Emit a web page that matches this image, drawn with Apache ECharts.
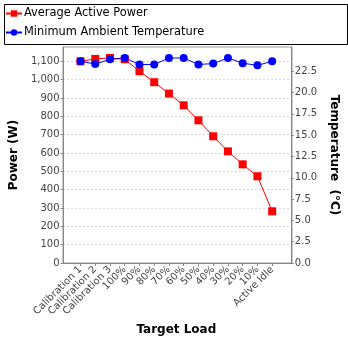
<!DOCTYPE html>
<html><head><meta charset="utf-8">
<script src="https://cdn.jsdelivr.net/npm/echarts@6/dist/echarts.min.js"></script>
<style>html,body{margin:0;padding:0;background:#fff}#c{width:348px;height:348px}</style>
</head><body><div id="c"></div>
<script>
const categories = ['Calibration 1','Calibration 2','Calibration 3','100%','90%','80%','70%','60%','50%','40%','30%','20%','10%','Active Idle'];
const powerValues = [1100,1113,1118,1111,1046,986,924,860,778,691,609,538,473,282];
const tempValues = [23.67,23.35,23.9,24.06,23.3,23.3,24.06,24.06,23.3,23.4,24.06,23.45,23.2,23.67];
const tempTicks = [0,2.5,5,7.5,10,12.5,15,17.5,20,22.5];
const seriesNames = ['Average Active Power','Minimum Ambient Temperature'];
const axisTitles = {x:'Target Load', left:'Power (W)', right:'Temperature  (°C)'};

const FONT = 'DejaVu Sans';
const chart = echarts.init(document.getElementById('c'), null, {renderer:'canvas'});
const lblStyle = {fontFamily: FONT, fontSize: 10, color: '#444'};
const titleStyle = {fontFamily: FONT, fontSize: 12, fontWeight: 'bold', color: '#000'};
chart.setOption({
  animation: false,
  backgroundColor: '#fff',
  graphic: [{type:'rect', left: 2, top: 2, shape:{width:343, height:40}, style:{fill:'none', stroke:'#000', lineWidth:1}, z: 100}],
  legend: {
    orient: 'vertical', left: 5, top: 8, padding: 0, itemGap: 8, itemWidth: 16, itemHeight: 8,
    textStyle: {fontFamily: FONT, fontSize: 11.4, color: '#000', padding:[0,0,0,-3]},
    data: seriesNames
  },
  grid: [
    {left: 72.6, right: 67.3, top: 47, bottom: 85},
    {left: 63, right: 56, top: 47, bottom: 85, show: true, borderColor: '#999', borderWidth: 1, backgroundColor: 'transparent'}
  ],
  xAxis: [
    {type: 'category', gridIndex: 0, data: categories, boundaryGap: true,
     axisLine: {show: false}, axisTick: {show: true, alignWithLabel: true, length: 3, lineStyle:{color:'#888'}},
     axisLabel: Object.assign({rotate: 45, interval: 0, margin: 5}, lblStyle),
     name: axisTitles.x, nameLocation: 'middle', nameGap: 57, nameTextStyle: titleStyle},
    {type: 'value', gridIndex: 1, min: 0, max: 1, axisLabel: {show:false}, axisTick:{show:false}, splitLine:{show:false},
     axisLine: {show: true, lineStyle: {color: '#888'}}}
  ],
  yAxis: [
    {type: 'value', gridIndex: 0, position: 'left', offset: 9.6, min: 0, max: 1178, interval: 100,
     axisLine: {show: true, lineStyle: {color: '#888'}}, axisTick: {show: true, length: 3, lineStyle:{color:'#888'}},
     axisLabel: Object.assign({margin: 4, showMaxLabel: false, formatter: v => v > 1150 ? '' : v.toLocaleString('en-US')}, lblStyle),
     splitLine: {show: false},
     name: axisTitles.left, nameLocation: 'middle', nameRotate: 90, nameGap: 34, nameTextStyle: titleStyle},
    {type: 'value', gridIndex: 0, position: 'right', offset: 11.3, min: 0, max: 25.35, interval: 2.5,
     axisLine: {show: true, lineStyle: {color: '#888'}}, axisTick: {show: true, length: 3, customValues: tempTicks, lineStyle:{color:'#888'}},
     axisLabel: Object.assign({margin: 4, customValues: tempTicks, formatter: v => v.toFixed(1)}, lblStyle),
     splitLine: {show: false},
     name: axisTitles.right, nameLocation: 'middle', nameRotate: -90, nameGap: 22, nameTextStyle: titleStyle},
    {type: 'value', gridIndex: 1, min: 0, max: 1178, interval: 100, axisLine:{show:false}, axisTick:{show:false}, axisLabel:{show:false},
     splitLine: {show: true, lineStyle: {color: '#d8d8d8', type: [2,2], width: 1}}}
  ],
  series: [
    {name: seriesNames[0], type: 'line', xAxisIndex: 0, yAxisIndex: 0, data: powerValues,
     symbol: 'rect', symbolSize: 8, itemStyle: {color: '#ff0000'}, lineStyle: {color: '#ff0000', width: 1}},
    {name: seriesNames[1], type: 'line', xAxisIndex: 0, yAxisIndex: 1, data: tempValues,
     symbol: 'circle', symbolSize: 8, itemStyle: {color: '#0000ff'}, lineStyle: {color: '#0000ff', width: 1}}
  ]
});
</script></body></html>
